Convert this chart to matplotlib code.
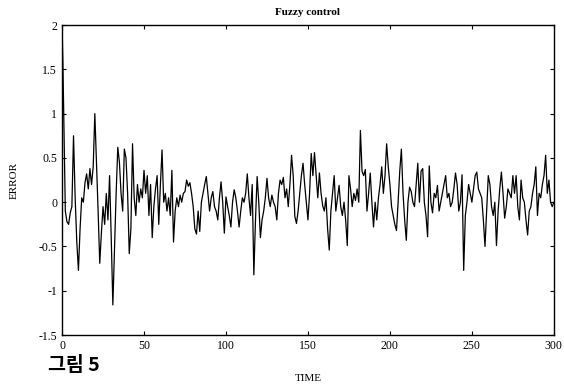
import numpy as np
import matplotlib
matplotlib.use('Agg')
import matplotlib.pyplot as plt

# values (time, error)
time = np.concatenate([[0, 0.5], np.arange(1, 301)])
error = [
    2.0, 1.6, 1.05, -0.1, -0.22, -0.25, -0.12, -0.05, 0.75, 0.05, -0.45, -0.77,
    -0.3, 0.05, 0.0, 0.22, 0.32, 0.15, 0.38, 0.2, 0.4, 1.0, 0.45, -0.1,
    -0.69, -0.35, -0.05, -0.25, 0.1, -0.2, 0.3, -0.4, -1.16, -0.55, 0.1, 0.62,
    0.45, 0.1, -0.1, 0.6, 0.5, 0.1, -0.58, -0.3, 0.66, 0.05, -0.15, 0.2,
    0.0, 0.15, 0.05, 0.36,
    # 51-100
    0.1, 0.3, -0.15, 0.2, -0.4, -0.05, 0.15, 0.3, -0.25, 0.2,
    0.59, 0.0, 0.1, -0.1, 0.05, -0.15, 0.36, -0.45, -0.1, 0.05,
    -0.05, 0.08, 0.0, 0.1, 0.12, 0.25, 0.18, 0.22, 0.1, -0.05,
    -0.3, -0.36, -0.1, -0.33, 0.0, 0.1, 0.2, 0.29, 0.1, -0.1,
    0.05, 0.12, -0.05, -0.1, -0.2, 0.05, 0.23, 0.0, -0.35, 0.06,
    # 101-150
    -0.05, -0.15, -0.28, 0.0, 0.14, 0.05, -0.1, -0.28, -0.1, 0.05,
    0.0, 0.1, 0.32, 0.05, -0.15, 0.2, -0.82, -0.2, 0.29, 0.0,
    -0.4, -0.2, -0.1, 0.05, 0.27, 0.05, -0.05, 0.08, 0.0, -0.05,
    -0.2, 0.1, 0.25, 0.2, 0.28, 0.05, 0.15, -0.05, 0.2, 0.53,
    0.3, -0.16, -0.24, -0.1, 0.1, 0.3, 0.44, 0.2, 0.0, -0.2,
    # 151-200
    0.1, 0.55, 0.3, 0.56, 0.3, 0.05, 0.33, 0.1, -0.04, -0.1,
    0.05, -0.3, -0.54, -0.1, 0.1, 0.3, -0.1, 0.05, 0.19, -0.05,
    -0.15, 0.0, -0.2, -0.49, 0.3, 0.15, -0.05, 0.1, 0.02, 0.15,
    0.0, 0.81, 0.35, 0.3, 0.37, -0.1, 0.1, 0.33, 0.0, -0.28,
    0.0, -0.2, 0.05, 0.2, 0.4, 0.1, 0.3, 0.66, 0.4, 0.2,
    # 201-250
    -0.05, -0.15, -0.25, -0.32, 0.0, 0.35, 0.6, 0.1, -0.2, -0.43,
    0.0, 0.17, 0.12, 0.0, -0.05, 0.2, 0.44, 0.0, 0.35, 0.38,
    0.0, -0.15, -0.39, 0.41, 0.0, -0.12, 0.1, 0.05, 0.19, -0.1,
    0.0, 0.1, 0.2, 0.3, 0.05, 0.1, -0.05, 0.0, 0.15, 0.33,
    0.2, -0.1, 0.0, 0.31, -0.77, -0.15, 0.0, 0.2, 0.1, 0.0,
    # 251-300
    0.15, 0.3, 0.34, 0.15, 0.1, 0.05, -0.2, -0.5, -0.1, 0.3,
    0.2, -0.05, -0.15, 0.0, -0.49, -0.1, 0.15, 0.34, 0.1, -0.18,
    -0.05, 0.15, 0.1, 0.05, 0.3, 0.1, 0.3, -0.05, -0.2, 0.25,
    0.05, 0.0, -0.2, -0.37, -0.1, -0.05, 0.1, 0.2, 0.4, -0.15,
    0.1, 0.05, 0.2, 0.3, 0.53, 0.1, 0.25, 0.0, -0.05, 0.0,
]
xticks = [0, 50, 100, 150, 200, 250, 300]
yticks = [-1.5, -1, -0.5, 0, 0.5, 1, 1.5, 2]
ytick_labels = ['-1.5', '-1', '-0.5', '0', '0.5', '1', '1.5', '2']

plt.rcParams['font.family'] = ['Liberation Serif', 'DejaVu Serif']

fig = plt.figure(figsize=(5.64, 3.86), dpi=100)
ax = fig.add_axes([0.110, 0.132, 0.872, 0.803])
ax.plot(time, error, color='black', lw=0.9)

ax.set_xlim(0, 300)
ax.set_ylim(-1.5, 2)
ax.set_xticks(xticks)
ax.set_yticks(yticks)
ax.set_yticklabels(ytick_labels)
ax.tick_params(direction='in', length=3, labelsize=8.5, top=True, right=True)
for s in ax.spines.values():
    s.set_linewidth(1.0)

ax.set_title('Fuzzy control', fontsize=8, fontweight='bold', pad=7)
ax.set_xlabel('TIME', fontsize=8, labelpad=16)
ax.set_ylabel('ERROR', fontsize=8, labelpad=14)

fig.text(0.085, 0.04, '그림 5', fontsize=14, fontweight='bold',
         family=['Noto Sans CJK KR', 'DejaVu Sans'])

fig.savefig('out.png', dpi=100)
